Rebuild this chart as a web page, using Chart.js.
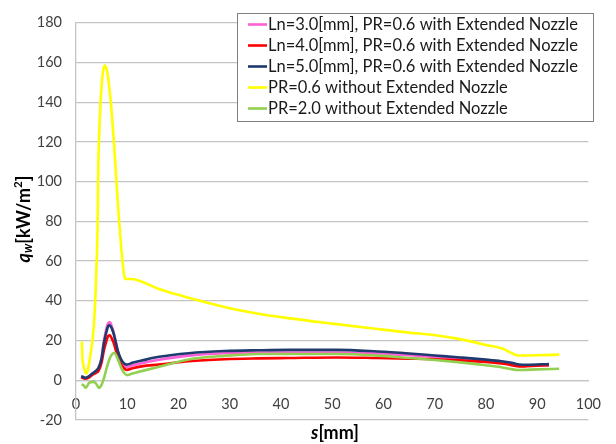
<!DOCTYPE html>
<html>
<head>
<meta charset="utf-8">
<script src="https://cdn.jsdelivr.net/npm/chart.js@4"></script>
<style>
  html, body { margin: 0; padding: 0; background: #fff; }
  #wrap { width: 616px; height: 444px; }
</style>
</head>
<body>
<div id="wrap"><canvas id="grafico" width="616" height="444"></canvas></div>
<script>
// series labels
const etiquetas = [
    "Ln=3.0[mm], PR=0.6 with Extended Nozzle",
    "Ln=4.0[mm], PR=0.6 with Extended Nozzle",
    "Ln=5.0[mm], PR=0.6 with Extended Nozzle",
    "PR=0.6 without Extended Nozzle",
    "PR=2.0 without Extended Nozzle"
];
const colores = ["#ff5fd7", "#ff0000", "#1f3a6e", "#ffff00", "#92d050"];

// s [mm] positions shared by the three extended nozzle cases
const sNozzle = [1.0, 1.8, 2.5, 3.1, 3.8, 4.4, 5.0, 5.4, 5.9, 6.3, 6.6, 7.0, 7.4, 8.2, 8.8, 9.4, 9.9, 11, 12.8, 16.2,
    22, 29, 35.6, 41.4, 51, 58.8, 65, 70, 75, 80, 83, 85, 86.5, 88, 92.3];
const qLn3 = [1.8, 1.0, 1.8, 3.0, 4.3, 6.2, 11.5, 19, 25.5, 28.8, 29.2, 27, 23.5, 14, 9.5, 7.2, 6.6, 7.5, 8.6, 10.3,
    12.4, 13.6, 14.0, 14.0, 14.0, 13.4, 12.6, 11.8, 11.0, 10.0, 9.3, 8.4, 7.2, 7.3, 7.6];
const qLn4 = [1.5, 0.8, 1.4, 2.6, 3.6, 4.8, 9, 14.5, 19.5, 22.3, 22.6, 21, 18.5, 11.2, 8, 5.9, 5.2, 6.0, 7.0, 7.9,
    9.6, 10.6, 11.0, 11.2, 11.5, 11.2, 10.9, 10.6, 10.0, 9.2, 8.4, 7.6, 6.9, 7.1, 7.6];
const qLn5 = [2.1, 1.3, 2.0, 3.3, 4.5, 6.3, 11, 18, 24, 27.3, 27.7, 26, 23, 14.5, 10.5, 8.4, 7.9, 8.8, 9.9, 11.8,
    13.6, 14.7, 15.1, 15.3, 15.3, 14.5, 13.5, 12.5, 11.5, 10.4, 9.6, 8.8, 7.9, 7.8, 8.2];

// without extended nozzle, PR=0.6
const sPR06 = [1.15, 1.2, 1.4, 1.7, 2.0, 2.3, 2.7, 3.0, 3.3, 3.6, 3.9, 4.2, 4.35, 4.5, 4.8, 5.2, 5.6, 6.1, 6.6, 6.9,
    7.4, 7.7, 8.2, 9.0, 9.6, 10.8, 13, 16.2, 20, 22.7, 29.1, 35.6, 40, 50, 58.8, 65, 69.8, 75, 80, 83.3,
    85, 86.2, 90, 94.3];
const qPR06 = [19.5, 14, 8, 5, 3.5, 5, 11, 16, 22, 32, 50, 76, 108, 122, 140, 154, 158.5, 155, 145, 137,
    120, 108, 88, 62, 51, 51, 49.5, 45.9, 43, 41, 36.8, 33.5, 31.8, 28.5, 25.8, 24, 22.8, 20.7, 17.8, 15.9,
    13.7, 12.5, 12.6, 12.9];

// without extended nozzle, PR=2.0
const sPR2 = [1.1, 1.5, 1.9, 2.6, 3.5, 4.0, 4.5, 5.0, 5.5, 6.0, 6.5, 7.0, 7.5, 8.2, 8.8, 9.3, 9.9, 11, 12.8, 16.2,
    22, 29, 35.6, 41.4, 51, 58.8, 65, 70, 75, 80, 83, 85, 86.2, 90, 94.3];
const qPR2 = [-2, -2.6, -3.8, -1.2, -0.8, -2, -3.8, -2.2, 1.5, 6.3, 10.5, 13, 13.7, 10.4, 6.5, 4.0, 2.6, 3.4, 4.6, 6.8,
    10.5, 12.3, 13.2, 13.2, 13.2, 12.4, 11.2, 10.2, 9.0, 7.6, 6.6, 5.6, 5.2, 5.5, 5.8];

// axis ranges
const xMin = 0, xMax = 100, xPaso = 10;
const yMin = -20, yMax = 180, yPaso = 20;

const fuente = "Lato";
const colorTexto = "#404040";
const colorGrilla = "#c4c4c4";

const series = [
    [sNozzle, qLn3],
    [sNozzle, qLn4],
    [sNozzle, qLn5],
    [sPR06, qPR06],
    [sPR2, qPR2]
];

const datasets = series.map(([s, q], i) => ({
    label: etiquetas[i],
    data: s.map((v, j) => ({ x: v, y: q[j] })),
    borderColor: colores[i],
    backgroundColor: colores[i],
    borderWidth: 2.6,
    pointRadius: 0,
    cubicInterpolationMode: "monotone",
    order: series.length - i
}));

// draws text made of pieces (italic, sub/superscript)
function textoRico(ctx, partes, size) {
    let total = 0;
    const medidas = partes.map(p => {
        const sz = p.esc ? size * p.esc : size;
        ctx.font = `${p.it ? "italic " : ""}bold ${sz}px ${fuente}`;
        const w = ctx.measureText(p.t).width;
        total += w;
        return { sz, w };
    });
    let x = -total / 2;
    partes.forEach((p, i) => {
        ctx.font = `${p.it ? "italic " : ""}bold ${medidas[i].sz}px ${fuente}`;
        ctx.fillText(p.t, x, (p.dy || 0) * size);
        x += medidas[i].w;
    });
}

const titulosEjes = {
    id: "titulosEjes",
    afterDraw(chart) {
        const ctx = chart.ctx;
        ctx.save();
        ctx.fillStyle = "#000";
        ctx.textBaseline = "middle";
        ctx.textAlign = "left";
        ctx.save();
        ctx.translate(335, 433);
        textoRico(ctx, [{ t: "s", it: true }, { t: "[mm]" }], 18);
        ctx.restore();
        ctx.save();
        ctx.translate(24, 219);
        ctx.rotate(-Math.PI / 2);
        textoRico(ctx, [
            { t: "q", it: true },
            { t: "w", it: true, esc: 0.7, dy: 0.22 },
            { t: "[kW/m" },
            { t: "2", esc: 0.65, dy: -0.3 },
            { t: "]" }
        ], 18);
        ctx.restore();
        ctx.restore();
    }
};

const leyenda = {
    id: "leyenda",
    afterDraw(chart) {
        const ctx = chart.ctx;
        const x0 = 237.5, y0 = 13.5, x1 = 593.5, y1 = 121.5;
        ctx.save();
        ctx.fillStyle = "#fff";
        ctx.fillRect(x0, y0, x1 - x0, y1 - y0);
        ctx.strokeStyle = "#7f7f7f";
        ctx.lineWidth = 1;
        ctx.strokeRect(x0, y0, x1 - x0, y1 - y0);
        ctx.font = `16.5px ${fuente}`;
        ctx.textBaseline = "middle";
        ctx.textAlign = "left";
        chart.data.datasets.forEach((d, i) => {
            const y = 24.5 + i * 21;
            ctx.strokeStyle = d.borderColor;
            ctx.lineWidth = 2.6;
            ctx.beginPath();
            ctx.moveTo(248, y);
            ctx.lineTo(267, y);
            ctx.stroke();
            ctx.fillStyle = "#1a1a1a";
            ctx.fillText(d.label, 268, y + 0.5);
        });
        ctx.restore();
    }
};

const ctx = document.getElementById("grafico");
const grafico = new Chart(ctx, {
    type: "line",
    data: { datasets },
    plugins: [titulosEjes, leyenda],
    options: {
        responsive: false,
        animation: false,
        devicePixelRatio: 1,
        layout: { padding: { left: 0, top: 15, right: 23, bottom: 24 } },
        plugins: {
            legend: { display: false },
            tooltip: { enabled: false }
        },
        scales: {
            x: {
                type: "linear",
                position: { y: 0 },
                min: xMin,
                max: xMax,
                ticks: {
                    stepSize: xPaso,
                    padding: 15,
                    color: colorTexto,
                    font: { family: fuente, size: 14.5 }
                },
                grid: { display: false, drawTicks: false },
                border: { display: true, color: colorGrilla, width: 1.3 }
            },
            y: {
                type: "linear",
                min: yMin,
                max: yMax,
                ticks: {
                    stepSize: yPaso,
                    padding: 14,
                    color: colorTexto,
                    font: { family: fuente, size: 14.5 }
                },
                grid: { color: colorGrilla, lineWidth: 1.3, drawTicks: false },
                border: { display: true, color: colorGrilla, width: 1.3 },
                afterFit(scale) { scale.width = 76; }
            }
        }
    }
});
</script>
</body>
</html>
